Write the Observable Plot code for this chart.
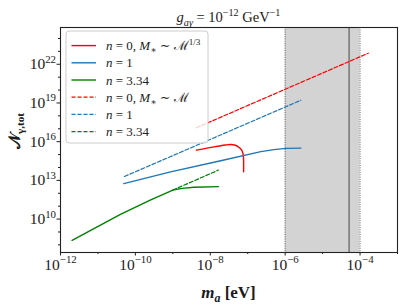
<!DOCTYPE html>
<html><head><meta charset="utf-8">
<script src="https://cdn.jsdelivr.net/npm/d3@7"></script>
<script src="https://cdn.jsdelivr.net/npm/@observablehq/plot@0.6"></script>
<style>body{margin:0;background:#fff} svg{display:block}</style>
</head><body><div id="chart"></div>
<script>
// ---------- data ----------
const massTickExps = [-12, -10, -8, -6, -4];
const countTickExps = [10, 13, 16, 19, 22];
const excludedBand = [1e-6, 1e-4];
const markerMass = [5.1e-5];

const redSolidMass = [4.27e-9, 1.26e-8, 2.51e-8, 3.55e-8, 4.68e-8, 5.5e-8, 6.46e-8, 7.24e-8, 7.59e-8, 7.76e-8, 7.76e-8];
const redSolidN    = [2.19e15, 3.98e15, 5.5e15, 6.03e15, 5.25e15, 4.17e15, 2.82e15, 1.66e15, 8.9e14, 4.0e14, 4.6e13];
const blueSolidMass = [4.9e-11, 8.7e-10, 1.9e-8, 2.24e-7, 5.0e-7, 1.05e-6, 2.63e-6];
const blueSolidN    = [5.6e12, 4.57e13, 3.31e14, 1.7e15, 2.4e15, 3.02e15, 3.16e15];
const greenSolidMass = [2.04e-12, 3.98e-11, 2.57e-10, 1e-9, 1.78e-9, 3.63e-9, 1.66e-8];
const greenSolidN    = [2.24e8, 2.29e10, 3.02e11, 1.78e12, 2.4e12, 2.95e12, 3.31e12];
const redDashMass = [4.27e-9, 1.66e-4];
const redDashN    = [1.2e17, 7.2e22];
const blueDashMass = [5.1e-11, 2.63e-6];
const blueDashN    = [2.0e13, 1.62e19];
const greenDashMass = [1e-9, 1.66e-8];
const greenDashN    = [1.78e12, 6.3e13];

const seriesColors = ["#ff0000", "#1f77b4", "#008000", "#ff0000", "#1f77b4", "#008000"];
const seriesDashed = [false, false, false, true, true, true];
const seriesMass = [redSolidMass, blueSolidMass, greenSolidMass, redDashMass, blueDashMass, greenDashMass];
const seriesN = [redSolidN, blueSolidN, greenSolidN, redDashN, blueDashN, greenDashN];
const legendLabels = [
  [{t:"n",i:1},{t:" = 0, "},{t:"M",i:1},{t:"∗",sub:1},{t:" ∼ "},{t:"ℳ"},{t:"1/3",sup:1}],
  [{t:"n",i:1},{t:" = 1"}],
  [{t:"n",i:1},{t:" = 3.34"}],
  [{t:"n",i:1},{t:" = 0, "},{t:"M",i:1},{t:"∗",sub:1},{t:" ∼ "},{t:"ℳ"}],
  [{t:"n",i:1},{t:" = 1"}],
  [{t:"n",i:1},{t:" = 3.34"}]
];
const titleSegs = [{t:"g",i:1},{t:"aγ",sub:1,i:1},{t:" = 10"},{t:"−12",sup:1},{t:" GeV"},{t:"−1",sup:1}];
const xLabelSegs = [{t:"m",i:1,b:1},{t:"a",sub:1,i:1,b:1},{t:" [eV]",b:1}];
const yLabelSegs = [{t:"𝒩",b:1},{t:"γ,tot",sub:1,b:1}];

// ---------- build ----------
const font = "'Liberation Serif', 'DejaVu Serif', serif";
const tickFont = 15.5;
const massTicks = massTickExps.map(e => Math.pow(10, e));
const countTicks = countTickExps.map(e => Math.pow(10, e));
const minorX = d3.range(-12, -2).filter(e => !massTickExps.includes(e)).map(e => Math.pow(10, e));
const minorY = d3.range(8, 25).filter(e => !countTickExps.includes(e)).map(e => Math.pow(10, e));
const expFmt = d => "10^" + Math.round(Math.log10(d));

const lineMarks = seriesMass.map((ms, k) => {
  const rows = ms.map((m, i) => ({m, N: seriesN[k][i]}));
  return Plot.line(rows, {x: "m", y: "N", stroke: seriesColors[k], strokeWidth: seriesDashed[k] ? 1.2 : 1.4,
    strokeDasharray: seriesDashed[k] ? "4,2" : null, curve: k === 0 ? "catmull-rom" : "linear"});
});

const svg = Plot.plot({
  width: 407, height: 305,
  marginLeft: 60, marginRight: 10, marginTop: 27, marginBottom: 53,
  style: {fontFamily: font, fontSize: tickFont + "px", background: "white", color: "#222"},
  x: {type: "log", domain: [1e-12, 1e-3]},
  y: {type: "log", domain: [Math.pow(10, 7.41), Math.pow(10, 24.85)]},
  marks: [
    Plot.rect([{a: excludedBand[0], b: excludedBand[1]}], {x1: "a", x2: "b", fill: "#d3d3d3"}),
    Plot.ruleX(excludedBand, {stroke: "#555", strokeWidth: 0.9, strokeDasharray: "1,1.3"}),
    Plot.ruleX(markerMass, {stroke: "#808080", strokeWidth: 1.7}),
    ...lineMarks,
    Plot.axisX(massTicks, {tickSize: 3.5, tickPadding: 2.5, tickFormat: expFmt, label: null, fontSize: tickFont}),
    Plot.axisX(minorX, {tickSize: 2, tickFormat: () => "", label: null}),
    Plot.axisY(countTicks, {tickSize: 3.5, tickPadding: 1, tickFormat: expFmt, label: null, fontSize: tickFont}),
    Plot.axisY(minorY, {tickSize: 2, tickFormat: () => "", label: null}),
    Plot.frame({stroke: "#222", strokeWidth: 1.1})
  ]
});
document.getElementById("chart").appendChild(svg);

function rich(sel, segs, size) {
  let cur = 0;
  for (const s of segs) {
    const off = s.sup ? -0.42 * size : s.sub ? 0.25 * size : 0;
    const ts = sel.append("tspan").text(s.t);
    if (off - cur !== 0) ts.attr("dy", off - cur);
    if (s.sup || s.sub) ts.attr("font-size", size * 0.7);
    if (s.i) ts.attr("font-style", "italic");
    if (s.b) ts.attr("font-weight", "bold");
    cur = off;
  }
  return sel;
}

const S = d3.select(svg);
S.selectAll("text").each(function() {
  const txt = this.textContent;
  const m = /^10\^(-?\d+)$/.exec(txt);
  if (m) {
    const el = d3.select(this);
    el.text("");
    rich(el, [{t: "10"}, {t: m[1].replace("-", "−"), sup: 1}], tickFont);
  }
});

function centered(parent, segs, size, cx, baseline, rotate) {
  const g = parent.append("g").attr("transform", `translate(${cx},${baseline})` + (rotate ? ` rotate(${rotate})` : ""));
  const t = g.append("text").attr("x", 0).attr("y", 0).attr("text-anchor", "start")
    .attr("font-size", size).attr("fill", "#1a1a1a");
  rich(t, segs, size);
  t.attr("x", -t.node().getComputedTextLength() / 2);
  return t;
}
const plotCx = 60 + (407 - 60 - 10) / 2;
centered(S, titleSegs, 14.5, plotCx, 22);
centered(S, xLabelSegs, 17, plotCx, 298);
centered(S, yLabelSegs, 16, 20, 131, -90);

// legend
const lg = S.append("g").attr("font-size", 13).attr("text-anchor", "start");
lg.append("rect").attr("x", 66).attr("y", 31).attr("width", 142).attr("height", 112).attr("rx", 3)
  .attr("fill", "white").attr("fill-opacity", 0.8).attr("stroke", "#cccccc").attr("stroke-width", 1);
legendLabels.forEach((segs, k) => {
  const y = 45.6 + k * 17.2;
  lg.append("line").attr("x1", 71.5).attr("x2", 96).attr("y1", y).attr("y2", y)
    .attr("stroke", seriesColors[k]).attr("stroke-width", seriesDashed[k] ? 1.2 : 1.4)
    .attr("stroke-dasharray", seriesDashed[k] ? "4,2" : null);
  rich(lg.append("text").attr("x", 106).attr("y", y + 4.5).attr("text-anchor", "start").attr("fill", "#222"), segs, 13);
});
</script>
</body></html>
